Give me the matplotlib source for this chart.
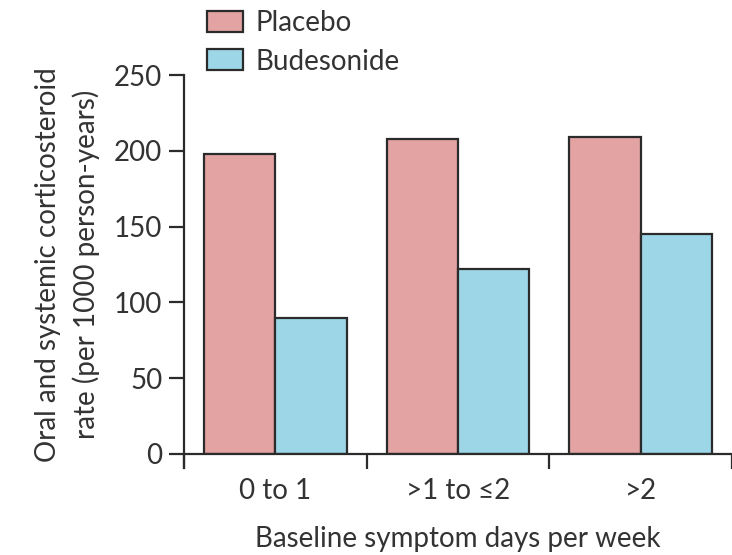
import matplotlib
matplotlib.use('Agg')
import matplotlib.pyplot as plt
import numpy as np

# values
groups = ['0 to 1', '>1 to \u22642', '>2']
placebo = [198, 208, 209]
budesonide = [90, 122, 145]

c_placebo = '#e2a3a2'
c_budes = '#9dd6e6'
dark = '#2b2b2b'
txt = '#333333'

plt.rcParams['font.family'] = ['Lato', 'DejaVu Sans']
plt.rcParams['font.size'] = 20

fig = plt.figure(figsize=(7.32, 5.55), dpi=100, facecolor='white')
ax = fig.add_axes([184 / 732, 1 - 454 / 555, 1 - 184 / 732, (454 - 75) / 555])

x = np.arange(len(groups)) + 0.5
w = 0.39
ax.bar(x - w / 2, placebo, w, color=c_placebo, edgecolor=dark, linewidth=1.6, label='Placebo')
ax.bar(x + w / 2, budesonide, w, color=c_budes, edgecolor=dark, linewidth=1.6, label='Budesonide')

ax.set_ylim(0, 250)
ax.set_xlim(0, 548 / 185.5)
ax.set_yticks([0, 50, 100, 150, 200, 250])

# boundary ticks on the x axis, labels at group centres
ax.set_xticks([0, 1, 2, 3])
ax.set_xticklabels([])
ax.set_xticks(x, minor=True)
ax.set_xticklabels(groups, minor=True)
ax.tick_params(axis='x', which='major', direction='out', length=11, width=1.6, color=dark)
ax.tick_params(axis='x', which='minor', length=0, pad=17, labelcolor=txt, labelsize=20)
ax.tick_params(axis='y', direction='out', length=11, width=1.6, color=dark, labelcolor=txt, labelsize=20, pad=4.5)

for s in ['top', 'right']:
    ax.spines[s].set_visible(False)
for s in ['left', 'bottom']:
    ax.spines[s].set_linewidth(1.6)
    ax.spines[s].set_color(dark)
ax.spines['left'].set_bounds(-9, 250)

ax.set_ylabel('Oral and systemic corticosteroid\nrate (per 1000 person-years)', color=txt, fontsize=20, labelpad=10, linespacing=1.5)
ax.set_xlabel('Baseline symptom days per week', color=txt, fontsize=20, labelpad=16)

fig.legend(loc='upper left', bbox_to_anchor=(207 / 732, 1 - 10 / 555), frameon=False,
           borderpad=0, borderaxespad=0, handlelength=1.3, handleheight=0.8,
           labelspacing=0.45, handletextpad=0.43, fontsize=20, labelcolor=txt)

fig.savefig('out.png', dpi=100, facecolor='white')
